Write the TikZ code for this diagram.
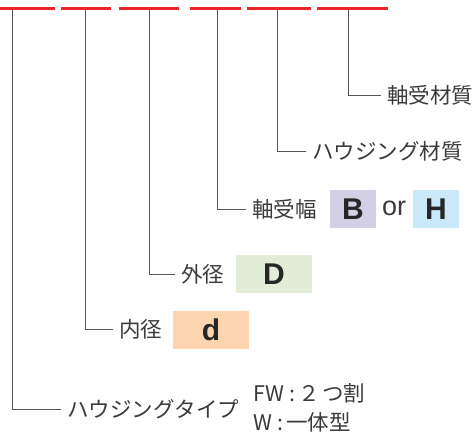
\documentclass[tikz,border=0pt]{standalone}
\usepackage{fontspec}
\setmainfont{Noto Sans CJK JP}
\newfontfamily\codefont{Liberation Sans}
\usetikzlibrary{positioning}

\definecolor{codered}{HTML}{E8262A}
\definecolor{leadgray}{HTML}{555555}
\definecolor{textgray}{HTML}{3A3A3A}
\definecolor{fillB}{HTML}{D3D0E6}
\definecolor{fillH}{HTML}{C9E8F8}
\definecolor{fillD}{HTML}{E1EDD6}
\definecolor{filld}{HTML}{FCD5B0}

\tikzset{
    redbar/.style={draw=codered, line width=3pt},
    leader/.style={draw=leadgray, line width=0.8pt},
    txt/.style={anchor=west, inner xsep=6pt, inner ysep=0pt, text=textgray,
        font=\fontsize{21.5}{23}\selectfont},
    letterbox/.style={inner sep=0pt, minimum height=38pt, text=black!85,
        font=\codefont\bfseries\fontsize{30}{31}\selectfont},
}

\begin{document}
\begin{tikzpicture}[x=1pt, y=-1pt]

    \useasboundingbox (0,0) rectangle (476,432);

    % Code positions
    \foreach \a/\b in {0/55, 61/111, 119/179, 190/241, 247/311, 317/388}
        \draw[redbar] (\a,8) -- (\b,8);

    \coordinate (t1) at (12.5,9.5);
    \coordinate (t2) at (85,9.5);
    \coordinate (t3) at (149,9.5);
    \coordinate (t4) at (217,9.5);
    \coordinate (t5) at (277,9.5);
    \coordinate (t6) at (348,9.5);

    % Bearing material
    \node[txt] (mat) at (381,95) {軸受材質};
    \draw[leader] (t6) |- (mat.west);

    % Housing material
    \node[txt] (hmat) at (306,151) {ハウジング材質};
    \draw[leader] (t5) |- (hmat.west);

    % Width
    \node[txt] (wid) at (246,209) {軸受幅};
    \node[letterbox, fill=fillB, minimum width=46pt] (B) at (353,209) {B};
    \node[txt, inner xsep=0pt, font=\codefont\fontsize{27}{28}\selectfont] (or) at (382,208) {or};
    \node[letterbox, fill=fillH, minimum width=46pt] (H) at (436,209) {H};
    \draw[leader] (t4) |- (wid.west);

    % Outer diameter
    \node[txt] (od) at (175,274) {外径};
    \node[letterbox, fill=fillD, minimum width=76pt] (D) at (274,274) {D};
    \draw[leader] (t3) |- (od.west);

    % Inner diameter
    \node[txt] (id) at (113,329) {内径};
    \node[letterbox, fill=filld, minimum width=76pt] (d) at (211,330) {d};
    \draw[leader] (t2) |- (id.west);

    % Housing type
    \node[txt] (htype) at (61,409) {ハウジングタイプ};
    \node[txt, inner xsep=0pt] (fw) at (253,393) {FW\hspace{5pt}:\hspace{3pt}２\hspace{3pt}つ割};
    \node[txt, inner xsep=0pt] (w) at (253,422) {W\hspace{5pt}:\hspace{3pt}一体型};
    \draw[leader] (t1) |- (htype.west);

\end{tikzpicture}
\end{document}
